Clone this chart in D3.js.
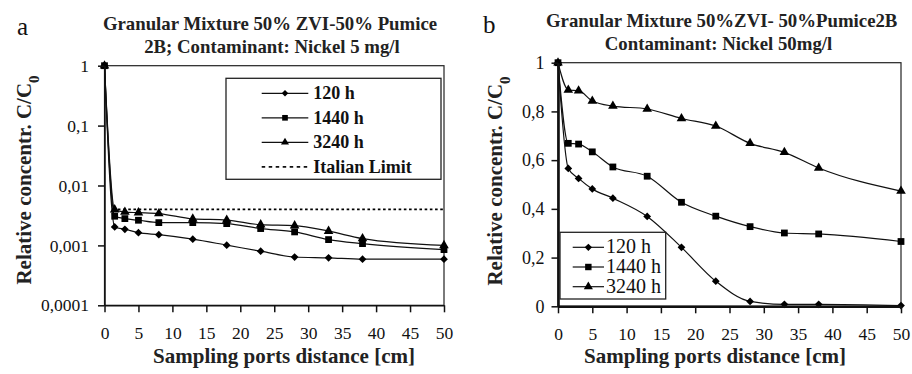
<!DOCTYPE html>
<html>
<head>
<meta charset="utf-8">
<script src="https://cdn.jsdelivr.net/npm/d3@7"></script>
<style>
  body { margin: 0; background: #fff; }
</style>
</head>
<body>
<svg id="chart" width="912" height="374"></svg>
<script>
// sampling port positions [cm]
const distances = [0, 1.5, 3, 5, 8, 13, 18, 23, 28, 33, 38, 50];
const seriesNames = ['120 h', '1440 h', '3240 h'];

// panel a: Nickel 5 mg/l (log scale)
const ni5_120h  = [1, 0.00203, 0.00186, 0.00163, 0.00151, 0.00127, 0.00101, 0.00080, 0.00064, 0.00062, 0.00059, 0.00059];
const ni5_1440h = [1, 0.00307, 0.00280, 0.00263, 0.00240, 0.00240, 0.00231, 0.00191, 0.00168, 0.00125, 0.00107, 0.00085];
const ni5_3240h = [1, 0.00395, 0.00360, 0.00352, 0.00340, 0.00277, 0.00265, 0.00222, 0.00214, 0.00173, 0.00130, 0.00100];
const italianLimit = 0.004;

// panel b: Nickel 50 mg/l (linear scale)
const ni50_120h  = [1, 0.566, 0.525, 0.482, 0.444, 0.369, 0.242, 0.103, 0.020, 0.008, 0.008, 0.003];
const ni50_1440h = [1, 0.669, 0.666, 0.634, 0.572, 0.534, 0.427, 0.370, 0.327, 0.301, 0.297, 0.266];
const ni50_3240h = [1, 0.888, 0.885, 0.843, 0.822, 0.810, 0.771, 0.740, 0.669, 0.632, 0.568, 0.473];

const xTicks = [0, 5, 10, 15, 20, 25, 30, 35, 40, 45, 50];
const logTicks = [1, 0.1, 0.01, 0.001, 0.0001];
const logTickLabels = ['1', '0,1', '0,01', '0,001', '0,0001'];
const linTicks = [0, 0.2, 0.4, 0.6, 0.8, 1];
const linTickLabels = ['0', '0,2', '0,4', '0,6', '0,8', '1'];

const FONT = '"Liberation Serif", "Times New Roman", serif';
const svg = d3.select('#chart');

// marker shapes for the three series
const markers = [
  { type: d3.symbolSquare, size: 30, rotate: 45 },   // diamond
  { type: d3.symbolSquare, size: 46, rotate: 0 },    // square
  { type: d3.symbolTriangle, size: 40, rotate: 0 }   // triangle
];

function drawMarker(g, x, y, m, scale = 1) {
  g.append('path')
    .attr('d', d3.symbol().type(m.type).size(m.size * scale)())
    .attr('transform', `translate(${x},${y}) rotate(${m.rotate})`)
    .attr('fill', '#000');
}

function label(g, x, y, txt, size, bold) {
  return g.append('text')
    .attr('x', x).attr('y', y)
    .style('font-family', FONT)
    .style('font-size', size + 'px')
    .style('font-weight', bold ? 'bold' : 'normal')
    .attr('fill', '#111').text(txt);
}

function drawPanel(cfg) {
  const g = svg.append('g');
  const x = d3.scaleLinear().domain([0, 50]).range([cfg.left, cfg.right]);
  const y = cfg.y;

  // plot frame (top/right)
  g.append('rect')
    .attr('x', cfg.left).attr('y', cfg.top)
    .attr('width', cfg.right - cfg.left).attr('height', cfg.bottom - cfg.top)
    .attr('fill', 'none').attr('stroke', '#222').attr('stroke-width', 1.2);

  const line = d3.line()
    .x((d, i) => x(distances[i]))
    .y(d => y(d))
    .curve(d3.curveMonotoneX);

  if (cfg.limit) {
    g.append('line')
      .attr('x1', x(1.2)).attr('x2', x(50))
      .attr('y1', y(cfg.limit)).attr('y2', y(cfg.limit))
      .attr('stroke', '#000').attr('stroke-width', 1.8)
      .attr('stroke-dasharray', '2.6,2.6');
  }

  cfg.series.forEach((vals, k) => {
    g.append('path')
      .attr('d', line(vals))
      .attr('fill', 'none').attr('stroke', '#111').attr('stroke-width', 1.2);
    vals.forEach((v, i) => drawMarker(g, x(distances[i]), y(v), markers[k]));
  });

  // axes
  const ax = g.append('g')
    .attr('transform', `translate(0,${cfg.bottom})`)
    .call(d3.axisBottom(x).tickValues(xTicks).tickSize(7).tickSizeOuter(0).tickPadding(14));
  const ay = g.append('g')
    .attr('transform', `translate(${cfg.left},0)`)
    .call(d3.axisLeft(y).tickValues(cfg.yTicks).tickSize(6.5).tickSizeOuter(0).tickPadding(cfg.yPad)
      .tickFormat((d, i) => cfg.yLabels[i]));
  [ax, ay].forEach(a => {
    a.attr('font-family', null);
    a.select('.domain').attr('stroke', '#111').attr('stroke-width', cfg.axisWidth);
    a.selectAll('.tick line').attr('stroke', '#111').attr('stroke-width', 1.5);
  });
  ax.selectAll('text').style('font-family', FONT)
    .style('font-size', cfg.xTickSize + 'px').attr('fill', '#111');
  ay.selectAll('text').style('font-family', FONT)
    .style('font-size', cfg.yTickSize + 'px').attr('fill', '#111');

  // titles
  cfg.title.forEach((t, i) => {
    label(g, cfg.titleX[i], cfg.titleY + i * 23, t, 18.8, true)
      .attr('text-anchor', 'middle').attr('fill', '#222');
  });
  label(g, cfg.letterX, cfg.letterY, cfg.letter, 25, false);

  label(g, cfg.xLabelX, 363, 'Sampling ports distance [cm]', 21, true)
    .attr('text-anchor', 'middle').attr('fill', '#222');

  const yl = label(g, 0, 0, null, 21, true)
    .attr('x', null).attr('y', null)
    .attr('transform', `translate(${cfg.yLabelX},${cfg.yLabelY}) rotate(-90)`)
    .attr('text-anchor', 'middle').attr('fill', '#222');
  yl.append('tspan').text('Relative concentr. C/C');
  yl.append('tspan').attr('baseline-shift', 'sub').style('font-size', '15px').text('0');

  // legend
  const L = cfg.legend;
  g.append('rect')
    .attr('x', L.x).attr('y', L.y).attr('width', L.w).attr('height', L.h)
    .attr('fill', '#fff').attr('stroke', '#222').attr('stroke-width', 1.3);
  const items = cfg.series.map((s, k) => ({ name: seriesNames[k], marker: markers[k] }));
  if (cfg.limit) items.push({ name: 'Italian Limit', dotted: true });
  items.forEach((it, i) => {
    const yy = L.y + L.first + i * L.step;
    const ln = g.append('line')
      .attr('x1', L.lineX1).attr('x2', L.lineX2).attr('y1', yy).attr('y2', yy)
      .attr('stroke', '#111');
    if (it.dotted) ln.attr('stroke-width', 1.8).attr('stroke-dasharray', '3.5,3.5');
    else {
      ln.attr('stroke-width', 1.2);
      drawMarker(g, (L.lineX1 + L.lineX2) / 2, yy, it.marker, L.markerScale);
    }
    label(g, L.textX, yy + 6, it.name, L.fontSize, L.bold);
  });
}

drawPanel({
  left: 104.5, right: 444, top: 65.7, bottom: 305.3,
  y: d3.scaleLog().domain([0.0001, 1]).range([305.3, 65.7]),
  yTicks: logTicks, yLabels: logTickLabels,
  series: [ni5_120h, ni5_1440h, ni5_3240h],
  limit: italianLimit,
  axisWidth: 1.5, xTickSize: 17.5, yTickSize: 17.5, yPad: 9,
  title: ['Granular Mixture 50% ZVI-50% Pumice', '2B; Contaminant: Nickel 5 mg/l'],
  titleX: [270, 272], titleY: 30,
  letter: 'a', letterX: 17, letterY: 35,
  xLabelX: 284, yLabelX: 31, yLabelY: 180,
  legend: { x: 226, y: 78.3, w: 215, h: 101, first: 15, step: 24.5,
            lineX1: 261.7, lineX2: 308.3, textX: 313.3, fontSize: 18, bold: true, markerScale: 0.7 }
});

drawPanel({
  left: 558, right: 901, top: 62.7, bottom: 306.3,
  y: d3.scaleLinear().domain([0, 1]).range([306.3, 62.7]),
  yTicks: linTicks, yLabels: linTickLabels,
  series: [ni50_120h, ni50_1440h, ni50_3240h],
  limit: null,
  axisWidth: 2.6, xTickSize: 17.5, yTickSize: 18, yPad: 7,
  title: ['Granular Mixture 50%ZVI- 50%Pumice2B', 'Contaminant: Nickel 50mg/l'],
  titleX: [721.7, 718.5], titleY: 27,
  letter: 'b', letterX: 483, letterY: 33,
  xLabelX: 715, yLabelX: 502, yLabelY: 181,
  legend: { x: 560, y: 232.3, w: 105.7, h: 66.7, first: 15, step: 19.7,
            lineX1: 572.7, lineX2: 604, textX: 606, fontSize: 20, bold: false, markerScale: 0.9 }
});
</script>
</body>
</html>
